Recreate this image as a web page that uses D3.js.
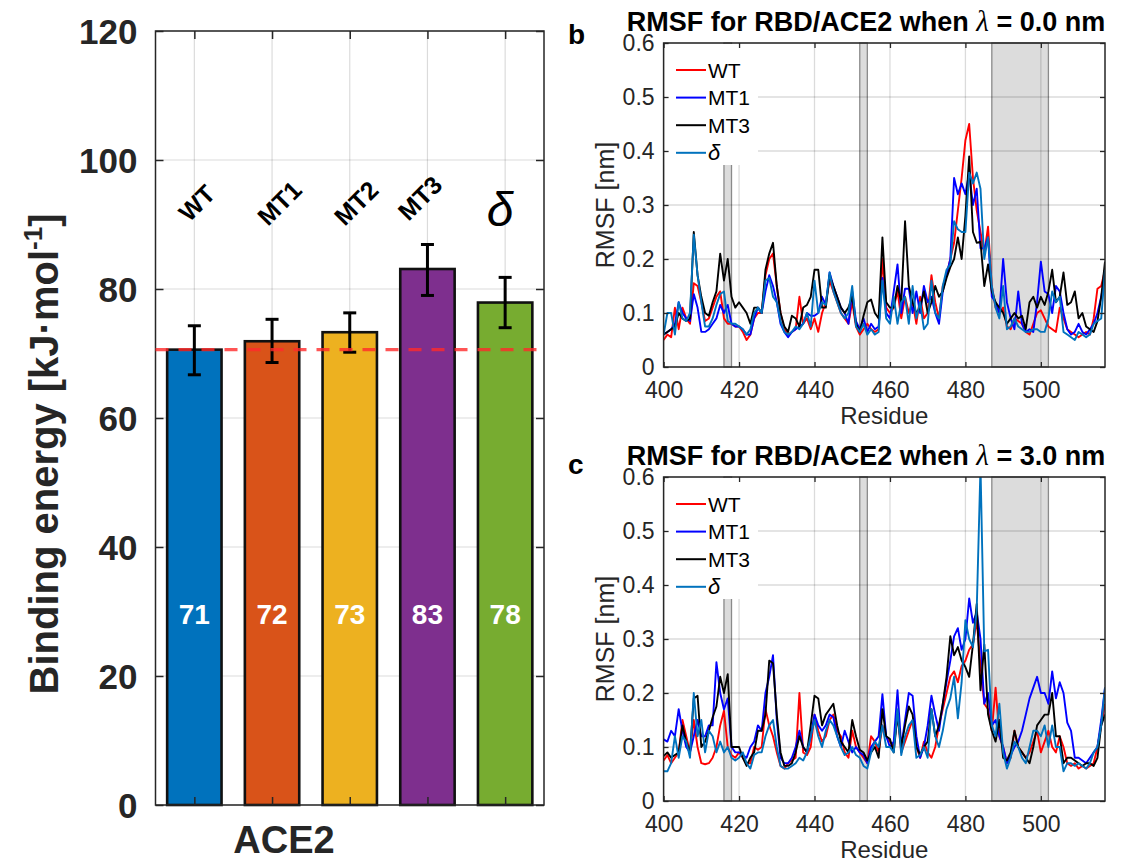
<!DOCTYPE html>
<html><head><meta charset="utf-8">
<script src="https://cdn.jsdelivr.net/npm/d3@7"></script>
<style>
body{margin:0;background:#fff}
svg{display:block}
text{font-family:"Liberation Sans",Arial,Helvetica,sans-serif}
</style>
</head><body>
<svg id="chart" width="1128" height="863"></svg>
<script>
// ---------------- data: panel a ----------------
const categories = ["WT","MT1","MT2","MT3","δ"];
const bindingEnergy = [70.6, 71.9, 73.3, 83.1, 77.9];
const errLow  = [66.7, 68.6, 70.2, 79.0, 74.0];
const errHigh = [74.3, 75.3, 76.3, 86.9, 81.8];
const valueLabels = ["71","72","73","83","78"];
const wtReference = 70.6;
const energyTicks = [0,20,40,60,80,100,120];
const groupLabel = "ACE2";

// ---------------- data: panels b, c ----------------
const residueStart = 400, residueEnd = 517;
const residueTicks = [400,420,440,460,480,500];
const rmsfTicks = [0,0.1,0.2,0.3,0.4,0.5,0.6];
const rmsfTickLabels = ["0","0.1","0.2","0.3","0.4","0.5","0.6"];
const shadedBands = [[416,418],[452,454],[487,502]];
const seriesNames = ["WT","MT1","MT3","δ"];

const rmsfB_WT = [
0.05,0.06,0.055,0.11,0.07,0.11,0.09,0.08,0.155,0.15,
0.12,0.085,0.09,0.11,0.13,0.14,0.09,0.08,0.08,0.075,
0.075,0.065,0.05,0.06,0.09,0.1,0.1,0.17,0.2,0.21,
0.15,0.1,0.07,0.06,0.065,0.07,0.13,0.08,0.09,0.07,
0.09,0.065,0.1,0.12,0.16,0.14,0.12,0.1,0.09,0.08,
0.12,0.075,0.06,0.07,0.08,0.07,0.065,0.07,0.2,0.11,
0.1,0.11,0.14,0.09,0.13,0.1,0.12,0.08,0.13,0.09,
0.1,0.17,0.12,0.09,0.15,0.17,0.2,0.23,0.29,0.35,
0.42,0.45,0.35,0.29,0.25,0.21,0.26,0.15,0.11,0.1,
0.11,0.075,0.07,0.09,0.085,0.08,0.065,0.06,0.08,0.1,
0.105,0.09,0.075,0.07,0.065,0.11,0.09,0.07,0.065,0.06,
0.055,0.06,0.065,0.06,0.09,0.145,0.15,0.18];
const rmsfB_MT1 = [
0.06,0.065,0.07,0.08,0.12,0.1,0.09,0.085,0.135,0.11,
0.065,0.065,0.07,0.08,0.09,0.115,0.1,0.115,0.08,0.075,
0.075,0.07,0.06,0.06,0.09,0.11,0.1,0.14,0.17,0.15,
0.12,0.08,0.065,0.055,0.065,0.07,0.075,0.08,0.1,0.095,
0.095,0.1,0.13,0.115,0.175,0.15,0.13,0.11,0.1,0.08,
0.14,0.085,0.07,0.09,0.065,0.08,0.07,0.075,0.165,0.1,
0.09,0.14,0.19,0.1,0.145,0.145,0.1,0.14,0.1,0.15,
0.12,0.13,0.1,0.08,0.14,0.17,0.2,0.35,0.32,0.34,
0.32,0.36,0.3,0.33,0.22,0.22,0.24,0.13,0.12,0.1,
0.2,0.12,0.09,0.07,0.14,0.08,0.065,0.07,0.065,0.12,
0.195,0.14,0.135,0.1,0.15,0.14,0.1,0.07,0.06,0.065,
0.08,0.065,0.06,0.07,0.08,0.1,0.13,0.17];
const rmsfB_MT3 = [
0.06,0.065,0.07,0.075,0.1,0.09,0.085,0.09,0.25,0.17,
0.13,0.1,0.095,0.12,0.14,0.21,0.16,0.2,0.13,0.11,
0.12,0.11,0.1,0.08,0.11,0.11,0.1,0.18,0.21,0.23,
0.15,0.1,0.075,0.065,0.095,0.09,0.075,0.11,0.115,0.13,
0.18,0.18,0.11,0.11,0.17,0.15,0.13,0.11,0.1,0.11,
0.13,0.08,0.065,0.095,0.12,0.125,0.1,0.09,0.24,0.12,
0.11,0.11,0.15,0.12,0.27,0.15,0.12,0.1,0.11,0.14,
0.1,0.12,0.15,0.13,0.14,0.165,0.185,0.2,0.24,0.2,
0.28,0.39,0.25,0.23,0.232,0.15,0.19,0.14,0.12,0.11,
0.1,0.08,0.09,0.1,0.09,0.095,0.07,0.12,0.13,0.11,
0.13,0.115,0.14,0.18,0.12,0.13,0.175,0.115,0.12,0.14,
0.09,0.1,0.075,0.07,0.065,0.085,0.13,0.195];
const rmsfB_Delta = [
0.06,0.1,0.1,0.06,0.12,0.09,0.085,0.1,0.245,0.17,
0.12,0.075,0.075,0.09,0.115,0.135,0.14,0.085,0.08,0.08,
0.075,0.07,0.06,0.07,0.1,0.11,0.1,0.16,0.165,0.13,
0.12,0.085,0.065,0.06,0.065,0.075,0.07,0.08,0.1,0.075,
0.16,0.1,0.12,0.115,0.175,0.14,0.12,0.1,0.09,0.1,
0.15,0.075,0.065,0.08,0.06,0.07,0.06,0.065,0.16,0.09,
0.08,0.13,0.08,0.12,0.13,0.08,0.15,0.09,0.12,0.07,
0.08,0.16,0.1,0.09,0.15,0.18,0.19,0.27,0.255,0.25,
0.25,0.36,0.34,0.36,0.33,0.2,0.24,0.15,0.11,0.09,
0.15,0.07,0.075,0.09,0.075,0.07,0.065,0.065,0.07,0.07,
0.065,0.065,0.09,0.14,0.12,0.13,0.065,0.06,0.055,0.05,
0.065,0.06,0.055,0.06,0.08,0.085,0.09,0.18];

const rmsfC_WT = [
0.075,0.085,0.07,0.08,0.09,0.15,0.12,0.09,0.15,0.1,
0.07,0.068,0.07,0.08,0.1,0.14,0.167,0.1,0.085,0.08,
0.09,0.08,0.07,0.07,0.1,0.095,0.1,0.17,0.14,0.12,
0.09,0.065,0.06,0.07,0.075,0.08,0.2,0.09,0.085,0.1,
0.16,0.13,0.11,0.12,0.15,0.16,0.13,0.12,0.09,0.08,
0.13,0.1,0.09,0.08,0.07,0.12,0.11,0.09,0.14,0.12,
0.11,0.1,0.16,0.09,0.11,0.13,0.15,0.1,0.08,0.11,
0.09,0.08,0.1,0.14,0.17,0.2,0.23,0.24,0.22,0.25,
0.26,0.28,0.29,0.335,0.25,0.18,0.17,0.13,0.21,0.12,
0.1,0.07,0.08,0.13,0.1,0.09,0.08,0.09,0.11,0.13,
0.09,0.11,0.13,0.1,0.09,0.12,0.1,0.07,0.065,0.07,
0.06,0.065,0.06,0.065,0.07,0.1,0.14,0.18];
const rmsfC_MT1 = [
0.114,0.11,0.13,0.12,0.17,0.13,0.1,0.09,0.12,0.15,
0.12,0.12,0.14,0.14,0.257,0.2,0.17,0.19,0.1,0.09,
0.09,0.085,0.08,0.1,0.11,0.14,0.13,0.2,0.23,0.27,
0.15,0.08,0.07,0.07,0.08,0.1,0.13,0.1,0.09,0.12,
0.16,0.14,0.13,0.14,0.16,0.155,0.12,0.1,0.13,0.11,
0.09,0.1,0.09,0.085,0.07,0.1,0.11,0.12,0.198,0.12,
0.1,0.11,0.205,0.1,0.15,0.2,0.195,0.12,0.08,0.1,
0.14,0.195,0.16,0.13,0.18,0.22,0.26,0.305,0.32,0.28,
0.3,0.375,0.33,0.35,0.3,0.18,0.2,0.14,0.15,0.12,
0.1,0.07,0.085,0.1,0.11,0.13,0.16,0.19,0.21,0.23,
0.2,0.2,0.18,0.24,0.19,0.22,0.2,0.145,0.13,0.08,
0.08,0.075,0.07,0.08,0.09,0.1,0.15,0.21];
const rmsfC_MT3 = [
0.083,0.09,0.08,0.085,0.09,0.14,0.11,0.09,0.19,0.195,
0.1,0.11,0.13,0.155,0.175,0.23,0.2,0.235,0.1,0.1,
0.1,0.08,0.065,0.08,0.09,0.13,0.13,0.16,0.26,0.255,
0.16,0.09,0.065,0.065,0.07,0.09,0.12,0.1,0.09,0.14,
0.195,0.19,0.14,0.16,0.17,0.18,0.14,0.11,0.1,0.09,
0.15,0.12,0.095,0.09,0.075,0.09,0.1,0.08,0.17,0.12,
0.115,0.09,0.16,0.1,0.14,0.175,0.16,0.1,0.085,0.1,
0.11,0.17,0.12,0.14,0.18,0.23,0.305,0.27,0.285,0.26,
0.248,0.23,0.29,0.365,0.205,0.29,0.16,0.13,0.11,0.15,
0.08,0.075,0.09,0.13,0.1,0.09,0.08,0.07,0.1,0.14,
0.15,0.16,0.16,0.2,0.12,0.12,0.07,0.08,0.08,0.075,
0.07,0.065,0.07,0.07,0.065,0.08,0.14,0.16];
const rmsfC_Delta = [
0.055,0.055,0.07,0.12,0.08,0.12,0.11,0.08,0.2,0.12,
0.15,0.09,0.13,0.12,0.09,0.11,0.09,0.1,0.08,0.075,
0.08,0.09,0.07,0.06,0.085,0.09,0.09,0.12,0.14,0.15,
0.1,0.065,0.06,0.06,0.065,0.07,0.08,0.075,0.09,0.12,
0.15,0.12,0.1,0.13,0.15,0.14,0.12,0.1,0.085,0.09,
0.1,0.085,0.08,0.065,0.06,0.09,0.11,0.1,0.14,0.1,
0.1,0.09,0.17,0.085,0.12,0.14,0.15,0.08,0.085,0.1,
0.08,0.17,0.12,0.1,0.13,0.17,0.19,0.23,0.153,0.22,
0.335,0.3,0.285,0.354,0.62,0.277,0.28,0.14,0.12,0.18,
0.09,0.06,0.08,0.11,0.1,0.08,0.07,0.1,0.13,0.13,
0.12,0.14,0.1,0.14,0.1,0.1,0.055,0.07,0.07,0.065,
0.07,0.065,0.06,0.07,0.09,0.1,0.14,0.21];

// ---------------- styles ----------------
const barColors = ["#0072BD","#D95319","#EDB120","#7E2F8E","#77AC30"];
const lineColors = ["#ff0000","#0000ff","#000000","#0072BD"];
const axisColor = "#262626";
const gridColor = "rgba(0,0,0,0.14)";
const sans = '"Liberation Sans",Arial,Helvetica,sans-serif';
const serif = '"Liberation Serif","DejaVu Serif","Times New Roman",serif';

const svg = d3.select("#chart");
svg.append("rect").attr("width",1128).attr("height",863).attr("fill","#fff");

// ================= Panel a =================
(function(){
  const L = 155.5, R = 544, T = 31, B = 805;
  const x = d3.scalePoint().domain(categories).range([L,R]).padding(0.5);
  const step = x.step();
  const barW = step*0.7;
  const y = d3.scaleLinear().domain([0,120]).range([B,T]);
  const g = svg.append("g");

  g.selectAll(".hg").data(energyTicks).join("line")
    .attr("x1",L).attr("x2",R).attr("y1",d=>y(d)).attr("y2",d=>y(d))
    .attr("stroke",gridColor).attr("stroke-width",1.2);
  g.selectAll(".vg").data(categories).join("line")
    .attr("x1",d=>x(d)).attr("x2",d=>x(d)).attr("y1",T).attr("y2",B)
    .attr("stroke",gridColor).attr("stroke-width",1.2);

  g.selectAll(".bar").data(categories).join("rect")
    .attr("x",d=>x(d)-barW/2).attr("width",barW)
    .attr("y",(d,i)=>y(bindingEnergy[i])).attr("height",(d,i)=>B-y(bindingEnergy[i]))
    .attr("fill",(d,i)=>barColors[i]).attr("stroke","#111").attr("stroke-width",2.6);

  const yAxis = d3.axisLeft(y).tickValues(energyTicks).tickSizeInner(-8).tickSizeOuter(0).tickPadding(18);
  const ya = g.append("g").attr("transform",`translate(${L},0)`).call(yAxis);
  ya.select(".domain").remove();
  ya.selectAll(".tick line").attr("stroke",axisColor).attr("stroke-width",1.5);
  ya.selectAll(".tick text").attr("font-family",sans).attr("font-size",35).attr("font-weight","bold")
    .attr("fill","#262626").attr("dy","0.36em");
  const yr = g.append("g").attr("transform",`translate(${R},0)`)
    .call(d3.axisRight(y).tickValues(energyTicks).tickSizeInner(-8).tickSizeOuter(0).tickFormat(""));
  yr.select(".domain").remove();
  yr.selectAll(".tick line").attr("stroke",axisColor).attr("stroke-width",1.5);
  const xb = g.append("g").attr("transform",`translate(0,${B})`)
    .call(d3.axisBottom(x).tickSizeInner(-8).tickSizeOuter(0).tickFormat(""));
  xb.select(".domain").remove();
  xb.selectAll(".tick line").attr("stroke",axisColor).attr("stroke-width",1.5);
  const xt = g.append("g").attr("transform",`translate(0,${T})`)
    .call(d3.axisTop(x).tickSizeInner(-8).tickSizeOuter(0).tickFormat(""));
  xt.select(".domain").remove();
  xt.selectAll(".tick line").attr("stroke",axisColor).attr("stroke-width",1.5);
  g.append("rect").attr("x",L).attr("y",T).attr("width",R-L).attr("height",B-T)
    .attr("fill","none").attr("stroke",axisColor).attr("stroke-width",1.5);

  const capW = 13;
  const eb = g.selectAll(".eb").data(categories).join("g");
  eb.append("line").attr("x1",d=>x(d)).attr("x2",d=>x(d))
    .attr("y1",(d,i)=>y(errLow[i])).attr("y2",(d,i)=>y(errHigh[i]))
    .attr("stroke","#000").attr("stroke-width",3);
  eb.append("line").attr("x1",d=>x(d)-capW/2).attr("x2",d=>x(d)+capW/2)
    .attr("y1",(d,i)=>y(errLow[i])).attr("y2",(d,i)=>y(errLow[i]))
    .attr("stroke","#000").attr("stroke-width",3);
  eb.append("line").attr("x1",d=>x(d)-capW/2).attr("x2",d=>x(d)+capW/2)
    .attr("y1",(d,i)=>y(errHigh[i])).attr("y2",(d,i)=>y(errHigh[i]))
    .attr("stroke","#000").attr("stroke-width",3);

  g.append("line").attr("x1",L).attr("x2",R).attr("y1",y(wtReference)).attr("y2",y(wtReference))
    .attr("stroke","#ff2a2a").attr("stroke-opacity",0.8).attr("stroke-width",3.2)
    .attr("stroke-dasharray","13,10");

  g.selectAll(".vl").data(categories).join("text")
    .attr("x",d=>x(d)).attr("y",y(28)).attr("text-anchor","middle")
    .attr("font-family",sans).attr("font-size",28).attr("font-weight","bold").attr("fill","#fff")
    .text((d,i)=>valueLabels[i]);

  const labelDx = [-5,-4,-5,-19];
  const labelY = [223,227,227,222];
  categories.forEach((c,i)=>{
    if(i<4){
      g.append("text").attr("transform",`translate(${x(c)+labelDx[i]},${labelY[i]}) rotate(-45)`)
        .attr("font-family",sans).attr("font-size",25).attr("font-weight","bold").attr("fill","#000")
        .text(c);
    } else {
      g.append("text").attr("x",x(c)-5).attr("y",226).attr("text-anchor","middle")
        .attr("font-family",serif).attr("font-style","italic").attr("font-size",48).attr("fill","#000")
        .text(c);
    }
  });

  g.append("text").attr("x",284).attr("y",853).attr("text-anchor","middle")
    .attr("font-family",sans).attr("font-size",38).attr("font-weight","bold").attr("fill","#262626")
    .text(groupLabel);

  const yl = g.append("text").attr("transform",`translate(58,${(T+B)/2+36}) rotate(-90)`)
    .attr("text-anchor","middle").attr("font-family",sans).attr("font-size",40).attr("font-weight","bold")
    .attr("fill","#262626");
  yl.append("tspan").text("Binding energy [kJ·mol");
  yl.append("tspan").attr("font-size",26).attr("dy",-16).text("-1");
  yl.append("tspan").attr("dy",16).text("]");
})();

// ================= Panels b and c =================
function rmsfPanel(cfg){
  const L = 663.6, R = 1105, T = cfg.top, B = cfg.bottom;
  const x = d3.scaleLinear().domain([residueStart,residueEnd]).range([L,R]);
  const y = d3.scaleLinear().domain([0,0.6]).range([B,T]);
  const g = svg.append("g");
  const clipId = "clip"+cfg.letter;
  svg.append("clipPath").attr("id",clipId).append("rect")
    .attr("x",L).attr("y",T).attr("width",R-L).attr("height",B-T);

  g.selectAll(".band").data(shadedBands).join("rect")
    .attr("x",d=>x(d[0])).attr("width",d=>x(d[1])-x(d[0]))
    .attr("y",T).attr("height",B-T)
    .attr("fill","#dcdcdc").attr("stroke","#8a8a8a").attr("stroke-width",1.3);

  g.selectAll(".hg").data(rmsfTicks).join("line")
    .attr("x1",L).attr("x2",R).attr("y1",d=>y(d)).attr("y2",d=>y(d))
    .attr("stroke",gridColor).attr("stroke-width",1.3);
  g.selectAll(".vg").data(residueTicks).join("line")
    .attr("x1",d=>x(d)).attr("x2",d=>x(d)).attr("y1",T).attr("y2",B)
    .attr("stroke",gridColor).attr("stroke-width",1.3);

  const line = d3.line().x((d,i)=>x(residueStart+i)).y(d=>y(d));
  const lg = g.append("g").attr("clip-path",`url(#${clipId})`);
  cfg.series.forEach((s,k)=>{
    lg.append("path").datum(s).attr("d",line).attr("fill","none")
      .attr("stroke",lineColors[k]).attr("stroke-width",1.9).attr("stroke-linejoin","round");
  });

  const lgX0 = L+1, lgY0 = T+1;
  g.append("rect").attr("x",lgX0).attr("y",lgY0).attr("width",758-lgX0).attr("height",121).attr("fill","#fff");
  seriesNames.forEach((n,k)=>{
    const yy = T + 27 + k*27.6;
    g.append("line").attr("x1",676).attr("x2",706).attr("y1",yy).attr("y2",yy)
      .attr("stroke",lineColors[k]).attr("stroke-width",2);
    const t = g.append("text").attr("x",708).attr("y",yy+7.5).attr("fill","#000").text(n);
    if(n==="δ") t.attr("font-family",serif).attr("font-style","italic").attr("font-size",22);
    else t.attr("font-family",sans).attr("font-size",21);
  });

  const xa = g.append("g").attr("transform",`translate(0,${B})`)
    .call(d3.axisBottom(x).tickValues(residueTicks).tickSizeInner(-5).tickSizeOuter(0).tickPadding(15));
  xa.select(".domain").remove();
  xa.selectAll(".tick line").attr("stroke",axisColor).attr("stroke-width",1.3);
  xa.selectAll(".tick text").attr("font-family",sans).attr("font-size",23).attr("fill","#262626");
  const xt = g.append("g").attr("transform",`translate(0,${T})`)
    .call(d3.axisTop(x).tickValues(residueTicks).tickSizeInner(-5).tickSizeOuter(0).tickFormat(""));
  xt.select(".domain").remove();
  xt.selectAll(".tick line").attr("stroke",axisColor).attr("stroke-width",1.3);
  const ya = g.append("g").attr("transform",`translate(${L},0)`)
    .call(d3.axisLeft(y).tickValues(rmsfTicks).tickSizeInner(-5).tickSizeOuter(0).tickPadding(9)
      .tickFormat((d,i)=>rmsfTickLabels[i]));
  ya.select(".domain").remove();
  ya.selectAll(".tick line").attr("stroke",axisColor).attr("stroke-width",1.3);
  ya.selectAll(".tick text").attr("font-family",sans).attr("font-size",23).attr("fill","#262626");
  const yr = g.append("g").attr("transform",`translate(${R},0)`)
    .call(d3.axisRight(y).tickValues(rmsfTicks).tickSizeInner(-5).tickSizeOuter(0).tickFormat(""));
  yr.select(".domain").remove();
  yr.selectAll(".tick line").attr("stroke",axisColor).attr("stroke-width",1.3);
  g.append("rect").attr("x",L).attr("y",T).attr("width",R-L).attr("height",B-T)
    .attr("fill","none").attr("stroke",axisColor).attr("stroke-width",1.5);

  g.append("text").attr("x",(L+R)/2).attr("y",B+cfg.resOffset).attr("text-anchor","middle")
    .attr("font-family",sans).attr("font-size",24).attr("fill","#262626").text("Residue");
  g.append("text").attr("transform",`translate(614,${(T+B)/2}) rotate(-90)`).attr("text-anchor","middle")
    .attr("font-family",sans).attr("font-size",25).attr("fill","#262626").text("RMSF [nm]");

  const tt = g.append("text").attr("x",866).attr("y",T-12).attr("text-anchor","middle")
    .attr("font-family",sans).attr("font-size",27).attr("font-weight","bold").attr("fill","#000");
  tt.append("tspan").text("RMSF for RBD/ACE2 when ");
  tt.append("tspan").attr("font-family",serif).attr("font-style","italic").attr("font-weight","normal")
    .attr("font-size",29).text("λ");
  tt.append("tspan").text(" = " + cfg.lambda + " nm");

  g.append("text").attr("x",568).attr("y",cfg.letterY)
    .attr("font-family",sans).attr("font-size",28).attr("font-weight","bold").attr("fill","#000")
    .text(cfg.letter);
}

rmsfPanel({top:43,bottom:367,letter:"b",letterY:44,lambda:"0.0",resOffset:57,
  series:[rmsfB_WT,rmsfB_MT1,rmsfB_MT3,rmsfB_Delta]});
rmsfPanel({top:477,bottom:801,letter:"c",letterY:474,lambda:"3.0",resOffset:57,
  series:[rmsfC_WT,rmsfC_MT1,rmsfC_MT3,rmsfC_Delta]});
</script>
</body></html>
